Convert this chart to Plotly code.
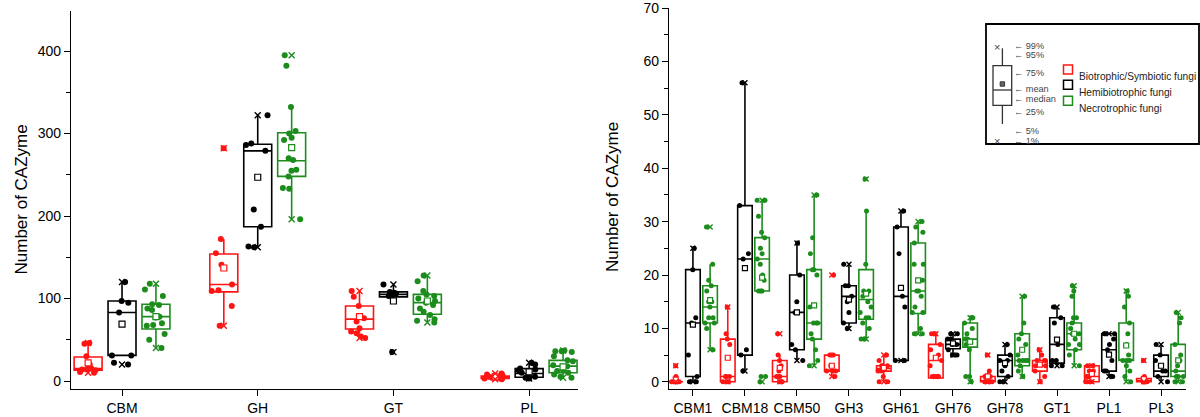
import plotly.graph_objects as go

W, H = 1200, 417

groups = ["Biotrophic/Symbiotic fungi", "Hemibiotrophic fungi", "Necrotrophic fungi"]
colors = ["#ff1414", "#000000", "#1c8c1c"]

left_categories = ["CBM", "GH", "GT", "PL"]
right_categories = ["CBM1", "CBM18", "CBM50", "GH3", "GH61", "GH76", "GH78", "GT1", "PL1", "PL3"]

# ---------------- Left panel (CAZyme classes) ----------------
left_bio_points = [
    [10, 11, 13, 14, 14, 15, 15, 20, 30, 45, 46],
    [67, 91, 109, 110, 117, 141, 155, 172, 282],
    [52, 54, 58, 60, 64, 72, 76, 91, 102, 109],
    [2, 3, 3, 4, 4, 5, 5, 6, 7, 8, 9],
]
left_bio_q1 = [13, 108, 63, 3]
left_bio_median = [15, 117, 75, 5]
left_bio_q3 = [29, 154, 91, 6]
left_bio_low = [11, 67, 58, 2]
left_bio_high = [46, 172, 109, 9]
left_bio_mean = [22, 137, 78, 5]

left_hemi_points = [
    [20, 22, 31, 31, 83, 95, 97, 120],
    [162, 163, 187, 208, 279, 286, 288, 322],
    [35, 103, 104, 105, 106, 107, 108, 117],
    [3, 4, 5, 6, 10, 13, 14, 15, 20, 22],
]
left_hemi_q1 = [31, 187, 102, 4.5]
left_hemi_median = [83, 279, 105, 9]
left_hemi_q3 = [97, 287, 108, 15]
left_hemi_low = [31, 162, 102, 3]
left_hemi_high = [120, 322, 117, 22]
left_hemi_mean = [69, 247, 97, 11]

left_necro_points = [
    [40, 50, 57, 67, 68, 70, 77, 78, 86, 88, 92, 93, 103, 111, 118],
    [196, 233, 234, 248, 255, 256, 268, 270, 292, 295, 300, 303, 332, 382, 395],
    [71, 73, 75, 80, 84, 88, 92, 95, 97, 100, 103, 105, 109, 121, 128],
    [4, 5, 8, 10, 12, 13, 18, 19, 24, 25, 30, 35, 36, 36, 37],
]
left_necro_q1 = [63, 248, 81, 10]
left_necro_median = [78, 267, 95, 18]
left_necro_q3 = [93, 301, 105, 25]
left_necro_low = [40, 196, 71, 4]
left_necro_high = [118, 332, 128, 37]
left_necro_mean = [78, 283, 97, 17]

# ---------------- Right panel (CAZyme families) ----------------
right_bio_points = [
    [0, 0, 0, 0, 0, 0, 0, 1, 3],
    [0, 0, 0, 1, 1, 1, 7, 8, 9, 14],
    [0, 0, 0, 1, 1, 1, 2, 3, 4, 5, 9],
    [1, 2, 2, 2, 3, 5, 5, 5, 20],
    [0, 0, 1, 2, 2, 3, 3, 3, 4, 5],
    [1, 1, 1, 3, 4, 5, 6, 7, 9, 9],
    [0, 0, 0, 0, 0, 1, 1, 1, 2, 5],
    [0, 1, 2, 3, 3, 4, 4, 4, 5, 6],
    [0, 0, 0, 1, 1, 1, 2, 2, 3, 3],
    [0, 0, 0, 0, 0, 0, 0, 1, 4],
]
right_bio_q1 = [0, 0, 0, 2, 2, 0.7, 0, 2, 0, 0]
right_bio_median = [0, 1, 1, 2, 2.5, 4, 0, 3, 1, 0]
right_bio_q3 = [0, 8, 4, 5, 3, 7, 1, 4, 3, 0.6]
right_bio_low = [0, 0, 0, 1, 0, 0.7, 0, 0, 0, 0]
right_bio_high = [1, 14, 5, 5, 5, 9, 2, 6, 3, 1]
right_bio_mean = [0.4, 4.5, 2.6, 3, 2.6, 4.5, 1, 3.2, 1.5, 0.5]

right_hemi_points = [
    [0, 0, 1, 5, 11, 12, 21, 25],
    [2, 5, 6, 23, 24, 33, 56],
    [4, 6, 7, 13, 15, 20, 26],
    [10, 11, 13, 15, 16, 18, 18, 22],
    [4, 4, 14, 16, 24, 29, 32],
    [5, 5, 6, 7, 7, 8, 8, 9, 9],
    [0, 0, 1, 2, 3, 4, 4, 5, 7],
    [3, 3, 4, 4, 7, 11, 12, 14],
    [1, 1, 2, 2, 4, 6, 7, 8, 9, 9, 9],
    [0, 1, 2, 2, 3, 4, 5, 7],
]
right_hemi_q1 = [1, 5, 6, 11, 4, 6.2, 1, 3.5, 2, 1]
right_hemi_median = [11, 23, 13, 16, 16, 7, 4, 7, 6, 2]
right_hemi_q3 = [21, 33, 20, 18, 29, 8, 5, 12, 9, 5]
right_hemi_low = [0, 2, 4, 10, 4, 5.3, 0, 2.8, 1, 0]
right_hemi_high = [25, 56, 26, 22, 32, 9, 7, 14, 9, 7]
right_hemi_mean = [10.7, 21.3, 13, 15.4, 17.6, 7.2, 3.5, 7.9, 5.1, 3]

right_necro_points = [
    [6, 10, 11, 11, 12, 12, 14, 15, 15, 17, 18, 19, 22, 29],
    [0, 1, 1, 17, 17, 17, 19, 20, 22, 23, 24, 25, 27, 28, 31, 34, 34],
    [3, 4, 6, 8, 9, 11, 11, 11, 14, 20, 21, 21, 24, 27, 35],
    [8, 8, 10, 11, 12, 12, 13, 14, 15, 16, 17, 17, 22, 32, 38],
    [9, 9, 10, 13, 13, 14, 16, 17, 17, 19, 22, 22, 26, 28, 29, 30],
    [0, 1, 1, 6, 7, 8, 8, 8, 9, 10, 11, 12, 12],
    [1, 2, 3, 4, 4, 4, 4, 5, 6, 7, 8, 9, 11, 16],
    [3, 5, 6, 7, 7, 8, 9, 9, 10, 11, 12, 12, 16, 17, 18],
    [0, 1, 2, 3, 4, 4, 4, 5, 7, 9, 11, 14, 16, 17],
    [0, 0, 1, 1, 1, 2, 3, 4, 5, 7, 11, 12, 13],
]
right_necro_q1 = [11, 17, 8, 11.7, 12.8, 6.5, 3, 6, 4, 1]
right_necro_median = [14, 23, 11, 15.4, 17, 8, 4, 9, 4, 2]
right_necro_q3 = [18, 27, 21, 21, 26, 11, 9, 11, 11, 7]
right_necro_low = [6, 17, 3, 8, 9, 0, 1, 3, 0, 0]
right_necro_high = [22, 34, 35, 32, 30, 12.4, 16, 18, 17, 13]
right_necro_mean = [15.3, 19.5, 14.3, 16.5, 19, 7.5, 6, 9, 6.8, 4]

legend_stats = ["99%", "95%", "75%", "mean", "median", "25%", "5%", "1%"]

FONT = "Liberation Sans, Arial, Helvetica, sans-serif"


def px(x):
    return x / W


def py(y):
    return 1 - y / H


fig = go.Figure()


def add_panel(xa, ya, n, sets, offset, width, size):
    offs = [-offset, 0, offset]
    for g, (pts, q1, med, q3, lo, hi, mean) in enumerate(sets):
        xs = [i + offs[g] for i in range(n)]
        fig.add_trace(go.Box(
            x=xs, y=pts, q1=q1, median=med, q3=q3, lowerfence=lo, upperfence=hi,
            width=width, boxpoints="all", jitter=0.9, pointpos=0, whiskerwidth=0,
            line=dict(color=colors[g], width=1.6), fillcolor="rgba(0,0,0,0)",
            marker=dict(color=colors[g], size=size, line=dict(width=0)),
            xaxis=xa, yaxis=ya, showlegend=False, hoverinfo="skip", name=groups[g]))
        fig.add_trace(go.Scatter(
            x=xs, y=mean, mode="markers", xaxis=xa, yaxis=ya, showlegend=False,
            marker=dict(symbol="square", size=size, color="white",
                        line=dict(width=1.2, color=colors[g])), hoverinfo="skip"))
        ext_y = [min(p) for p in pts] + [max(p) for p in pts]
        fig.add_trace(go.Scatter(
            x=xs + xs, y=ext_y, mode="markers", xaxis=xa, yaxis=ya, showlegend=False,
            marker=dict(symbol="x-thin", size=size,
                        line=dict(width=1.4, color=colors[g])), hoverinfo="skip"))


add_panel("x", "y", len(left_categories), [
    (left_bio_points, left_bio_q1, left_bio_median, left_bio_q3, left_bio_low, left_bio_high, left_bio_mean),
    (left_hemi_points, left_hemi_q1, left_hemi_median, left_hemi_q3, left_hemi_low, left_hemi_high, left_hemi_mean),
    (left_necro_points, left_necro_q1, left_necro_median, left_necro_q3, left_necro_low, left_necro_high, left_necro_mean),
], 0.25, 0.206, 6)

add_panel("x2", "y2", len(right_categories), [
    (right_bio_points, right_bio_q1, right_bio_median, right_bio_q3, right_bio_low, right_bio_high, right_bio_mean),
    (right_hemi_points, right_hemi_q1, right_hemi_median, right_hemi_q3, right_hemi_low, right_hemi_high, right_hemi_mean),
    (right_necro_points, right_necro_q1, right_necro_median, right_necro_q3, right_necro_low, right_necro_high, right_necro_mean),
], 0.33, 0.28, 5)

axis_common = dict(showline=True, linecolor="black", linewidth=1.3, showgrid=False,
                   zeroline=False, ticks="outside", tickcolor="black", tickwidth=1.3,
                   ticklabeloverflow="allow",
                   tickfont=dict(family=FONT, size=14, color="black"))

bottom = 1 - 389 / H
fig.update_layout(
    width=W, height=H, margin=dict(l=0, r=0, t=0, b=0),
    plot_bgcolor="white", paper_bgcolor="white", boxmode="overlay",
    font=dict(family=FONT, color="black"),
    xaxis=dict(domain=[px(71), px(578)], range=[-0.376, 3.36], tickmode="array",
               tickvals=list(range(len(left_categories))), ticktext=left_categories,
               ticklen=6, automargin=False, **axis_common),
    yaxis=dict(domain=[bottom, py(11)], range=[-9.7, 448.5], tickmode="linear",
               tick0=0, dtick=100, ticklen=6, automargin=False,
               minor=dict(dtick=50, ticklen=4, tickcolor="black", ticks="outside", tickwidth=1.3),
               **axis_common),
    xaxis2=dict(domain=[px(669), px(1186)], range=[-0.46, 9.48], tickmode="array",
                tickvals=list(range(len(right_categories))), ticktext=right_categories,
                ticklen=6, automargin=False, anchor="y2", **axis_common),
    yaxis2=dict(domain=[bottom, py(7.5)], range=[-1.35, 70.1], tickmode="linear",
                tick0=0, dtick=10, ticklen=6, automargin=False, anchor="x2",
                minor=dict(dtick=5, ticklen=4, tickcolor="black", ticks="outside", tickwidth=1.3),
                **axis_common),
)

annotations = [
    dict(text="Number of CAZyme", x=px(9), y=py(200), xref="paper", yref="paper",
         textangle=-90, showarrow=False, font=dict(family=FONT, size=17, color="black")),
    dict(text="Number of CAZyme", x=px(613), y=py(197), xref="paper", yref="paper",
         textangle=-90, showarrow=False, font=dict(family=FONT, size=17, color="black")),
]

shapes = []
# legend frame
shapes.append(dict(type="rect", xref="paper", yref="paper", x0=px(986), x1=px(1199),
                   y0=py(144), y1=py(24), line=dict(color="black", width=1.8)))
# schematic box
lc = "#333333"
bx0, bx1, bxc = 993, 1011.7, 1002.4
shapes += [
    dict(type="rect", xref="paper", yref="paper", x0=px(bx0), x1=px(bx1), y0=py(105.3), y1=py(65.7),
         line=dict(color=lc, width=1.3)),
    dict(type="line", xref="paper", yref="paper", x0=px(bx0), x1=px(bx1), y0=py(90), y1=py(90),
         line=dict(color=lc, width=1.3)),
    dict(type="line", xref="paper", yref="paper", x0=px(bxc), x1=px(bxc), y0=py(65.7), y1=py(48.3),
         line=dict(color=lc, width=1.3)),
    dict(type="line", xref="paper", yref="paper", x0=px(bxc), x1=px(bxc), y0=py(105.3), y1=py(124),
         line=dict(color=lc, width=1.3)),
    dict(type="rect", xref="paper", yref="paper", x0=px(bxc - 2.2), x1=px(bxc + 2.2), y0=py(86.2), y1=py(81.8),
         line=dict(color=lc, width=1), fillcolor="#666666"),
]
for ymark in (39.3, 132.7):
    annotations.append(dict(text="×", x=px(bxc), y=py(ymark), xref="paper", yref="paper",
                            showarrow=False, font=dict(family=FONT, size=11, color="#444444")))
label_y = [39.3, 48.3, 65.5, 82.3, 91.8, 105.5, 124, 134]
for lab, ly in zip(legend_stats, label_y):
    annotations.append(dict(text="\u2190 " + lab, x=px(1012), y=py(ly), xref="paper", yref="paper",
                            xanchor="left", showarrow=False,
                            font=dict(family=FONT, size=9.2, color="#444444")))
# colour keys
key_y = [69.5, 84.8, 100.8]
for g, ky in enumerate(key_y):
    shapes.append(dict(type="rect", xref="paper", yref="paper", x0=px(1063.5), x1=px(1072.5),
                       y0=py(ky + 4.5), y1=py(ky - 4.5), line=dict(color=colors[g], width=1.5)))
    annotations.append(dict(text=groups[g], x=px(1076.5), y=py(ky), xref="paper", yref="paper",
                            xanchor="left", showarrow=False,
                            font=dict(family=FONT, size=10.2, color="#222222")))

fig.update_layout(shapes=shapes, annotations=annotations)
fig.write_html("out.html", config={"displayModeBar": False},
               post_script="document.body.style.margin='0';document.body.style.overflow='hidden';")
